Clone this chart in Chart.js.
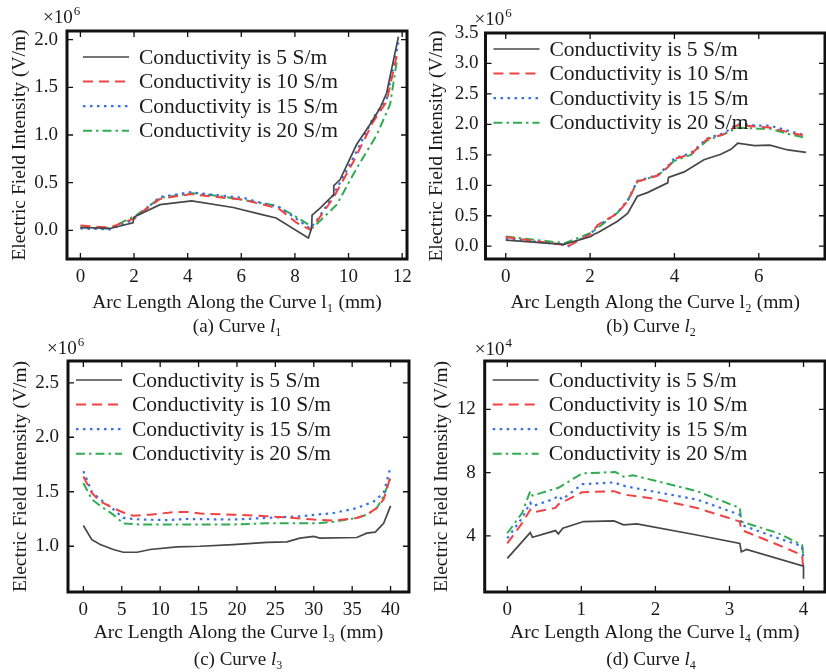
<!DOCTYPE html>
<html>
<head>
<meta charset="utf-8">
<script src="https://cdn.jsdelivr.net/npm/chart.js@4.4.1/dist/chart.umd.min.js"></script>
<style>
  body { margin: 0; background: #fff; }
  #wrap { position: relative; width: 826px; height: 672px; overflow: hidden; background: #fff; }
  canvas { position: absolute; }
  .cap { position: absolute; width: 200px; text-align: center; font: 19px "Liberation Serif", "Times New Roman", serif; line-height: 24px; color: #1a1a1a; }
  .sb { font-size: 12px; position: relative; top: 4px; }
</style>
</head>
<body>
<div id="wrap">
  <canvas id="pa" width="413" height="336" style="left:0;top:0"></canvas>
  <canvas id="pb" width="413" height="336" style="left:413px;top:0"></canvas>
  <canvas id="pc" width="413" height="336" style="left:0;top:336px"></canvas>
  <canvas id="pd" width="413" height="336" style="left:413px;top:336px"></canvas>
  <div class="cap" style="left:137px;top:314px">(a) Curve <i>l</i><span class="sb">1</span></div>
  <div class="cap" style="left:551px;top:314px">(b) Curve <i>l</i><span class="sb">2</span></div>
  <div class="cap" style="left:138px;top:647px">(c) Curve <i>l</i><span class="sb">3</span></div>
  <div class="cap" style="left:551px;top:647px">(d) Curve <i>l</i><span class="sb">4</span></div>
</div>
<script>
// legend text, shared by all four panels
const seriesLabels = ['Conductivity is 5 S/m', 'Conductivity is 10 S/m', 'Conductivity is 15 S/m', 'Conductivity is 20 S/m'];

// (a) curve l1, values x10^6 V/m, [arc length mm, field]
const a5 = [[0,0.03],[1.1,0.02],[1.96,0.08],[2.0,0.14],[2.97,0.27],[4.15,0.31],[5.7,0.24],[6.7,0.17],[7.3,0.13],[8.5,-0.08],[8.62,0.02],[8.64,0.16],[8.93,0.23],[9.43,0.37],[9.45,0.47],[9.68,0.53],[10.3,0.9],[10.8,1.11],[11.17,1.28],[11.42,1.44],[11.86,2.03]];
const a10 = [[0,0.05],[1.1,0.03],[1.96,0.12],[2.97,0.33],[4.1,0.38],[5.1,0.35],[6.1,0.32],[7.1,0.25],[7.44,0.22],[8.06,0.08],[8.56,0.01],[8.81,0.09],[9.43,0.34],[10.18,0.72],[10.92,1.14],[11.42,1.35],[11.82,1.86]];
const a15 = [[0,0.02],[1.1,0.01],[1.96,0.11],[2.97,0.35],[4.1,0.40],[5.1,0.37],[6.1,0.34],[6.7,0.29],[7.44,0.24],[8.06,0.12],[8.56,0.02],[8.81,0.1],[9.43,0.37],[10.18,0.76],[10.92,1.18],[11.42,1.38],[11.86,1.97]];
const a20 = [[0,0.03],[1.1,0.02],[2.09,0.16],[2.97,0.34],[4.2,0.39],[5.2,0.36],[6.7,0.29],[7.3,0.26],[8.06,0.14],[8.68,0.03],[9.56,0.27],[10.3,0.65],[11.05,1.0],[11.55,1.32],[11.82,1.81]];
const aXTicks = [0, 2, 4, 6, 8, 10, 12];
const aYTicks = [0, 0.5, 1.0, 1.5, 2.0];

// (b) curve l2, x10^6 V/m
const b5 = [[0,0.1],[1.38,0.03],[2.02,0.16],[2.1,0.2],[2.18,0.22],[2.65,0.41],[2.89,0.54],[3.12,0.82],[3.36,0.88],[3.84,1.04],[3.86,1.13],[4.23,1.22],[4.47,1.32],[4.7,1.42],[5.1,1.51],[5.34,1.59],[5.5,1.69],[5.9,1.65],[6.26,1.66],[6.69,1.58],[7.12,1.54]];
const b10 = [[0,0.15],[1.4,0.02],[1.45,-0.01],[2.02,0.2],[2.18,0.35],[2.65,0.54],[2.9,0.75],[3.12,1.06],[3.6,1.16],[3.85,1.3],[3.99,1.43],[4.39,1.51],[4.78,1.76],[5.18,1.84],[5.5,1.99],[5.98,1.96],[6.26,1.95],[6.77,1.86],[7.12,1.81]];
const b15 = [[0,0.13],[1.4,0.02],[1.45,-0.01],[2.02,0.21],[2.18,0.33],[2.65,0.55],[2.9,0.76],[3.12,1.07],[3.6,1.17],[3.85,1.32],[3.99,1.44],[4.39,1.53],[4.78,1.77],[5.18,1.86],[5.5,2.01],[5.98,1.98],[6.26,1.98],[6.77,1.88],[7.12,1.82]];
const b20 = [[0,0.16],[1.4,0.05],[2.02,0.22],[2.18,0.3],[2.65,0.55],[2.9,0.76],[3.12,1.06],[3.6,1.16],[3.85,1.3],[3.99,1.40],[4.39,1.5],[4.78,1.74],[5.18,1.84],[5.5,1.95],[5.98,1.93],[6.26,1.93],[6.77,1.83],[7.12,1.78]];
const bXTicks = [0, 2, 4, 6];
const bYTicks = [0, 0.5, 1.0, 1.5, 2.0, 2.5, 3.0, 3.5];

// (c) curve l3, x10^6 V/m
const c5 = [[0,1.19],[1.1,1.06],[2.2,1.015],[3.9,0.97],[5.2,0.945],[7,0.945],[8.7,0.97],[12.2,0.995],[15.2,1.0],[19.5,1.015],[23.9,1.035],[26.5,1.04],[28.2,1.075],[30,1.09],[30.8,1.075],[35.6,1.08],[36.9,1.12],[38,1.13],[39.1,1.21],[40,1.37]];
const c10 = [[0,1.64],[1.1,1.49],[2.2,1.41],[3.9,1.35],[5.2,1.31],[6.5,1.28],[8.7,1.29],[12.2,1.315],[13.6,1.315],[15.2,1.30],[19.5,1.29],[23.9,1.275],[27.4,1.26],[30,1.245],[32.6,1.235],[35.6,1.26],[36.9,1.29],[38.2,1.35],[39.1,1.43],[40,1.64]];
const c15 = [[0,1.69],[1.1,1.5],[2.2,1.43],[3.9,1.34],[5.2,1.26],[7.4,1.245],[10.9,1.24],[13.6,1.25],[19.5,1.245],[23.9,1.26],[28.2,1.275],[30.4,1.29],[32.6,1.305],[35.6,1.35],[37.8,1.41],[39.1,1.49],[40,1.73]];
const c20 = [[0,1.58],[1.1,1.43],[2.2,1.37],[3.9,1.29],[5.2,1.21],[7.4,1.2],[10.9,1.2],[15,1.2],[19.5,1.2],[23.9,1.21],[28.2,1.21],[30.4,1.21],[32.6,1.225],[35.6,1.26],[36.9,1.29],[38.2,1.35],[39.1,1.46],[40,1.63]];
const cXTicks = [0, 5, 10, 15, 20, 25, 30, 35, 40];
const cYTicks = [1.0, 1.5, 2.0, 2.5];

// (d) curve l4, x10^4 V/m
const d5 = [[0,2.58],[0.31,4.21],[0.34,3.92],[0.65,4.34],[0.69,4.13],[0.75,4.49],[1.03,4.91],[1.44,4.95],[1.57,4.70],[1.75,4.76],[2.56,4.06],[3.14,3.53],[3.16,3.0],[3.23,3.15],[4.0,2.09],[4.0,1.3]];
const d10 = [[0,3.53],[0.2,4.81],[0.31,5.66],[0.34,5.49],[0.65,5.77],[0.69,6.0],[1.01,6.76],[1.44,6.83],[1.57,6.62],[2.0,6.34],[2.56,5.77],[3.14,4.91],[3.16,4.38],[3.66,3.43],[3.98,2.79],[4.0,1.83]];
const d15 = [[0,3.85],[0.2,5.13],[0.31,6.09],[0.34,5.88],[0.63,6.34],[0.69,6.55],[0.74,6.3],[1.01,7.27],[1.44,7.38],[1.6,7.13],[2.56,6.3],[3.14,5.34],[3.16,4.70],[3.66,3.85],[3.98,3.36],[4.0,2.47]];
const d20 = [[0,4.17],[0.2,5.45],[0.31,6.83],[0.34,6.55],[0.69,7.04],[1.01,7.95],[1.46,8.04],[1.57,7.74],[1.7,7.83],[2.56,6.83],[3.14,5.77],[3.16,4.91],[3.66,4.17],[3.98,3.43],[4.0,2.68]];
const dXTicks = [0, 1, 2, 3, 4];
const dYTicks = [4, 8, 12];

const FONT = '"Liberation Serif", "Times New Roman", serif';
const colors = ['#474747', '#f04444', '#3670e8', '#32ac52'];
const widths = [1.7, 2, 2.2, 2];
const dashes = [[], [10, 6], [2.5, 4.5], [9, 4, 2.5, 4]];

Chart.defaults.font.family = FONT;
Chart.defaults.color = '#1a1a1a';

// legend drawn inside the plot box, top-left
const inlineLegend = {
  id: 'inlineLegend',
  afterDatasetsDraw(chart, args, opts) {
    const {ctx, chartArea} = chart;
    ctx.save();
    ctx.font = '21.5px ' + FONT;
    ctx.textBaseline = 'middle';
    chart.data.datasets.forEach((ds, i) => {
      const y = chartArea.top + opts.top + i * 24.6;
      const x0 = chartArea.left + opts.left;
      ctx.strokeStyle = ds.borderColor;
      ctx.lineWidth = ds.borderWidth;
      ctx.setLineDash(ds.borderDash);
      ctx.beginPath();
      ctx.moveTo(x0, y);
      ctx.lineTo(x0 + 46, y);
      ctx.stroke();
      ctx.setLineDash([]);
      ctx.fillStyle = '#1a1a1a';
      ctx.fillText(ds.label, x0 + 56, y + 1);
    });
    ctx.restore();
  }
};

// thick box, inward ticks on all four sides, exponent label
const frame = {
  id: 'frame',
  afterDraw(chart, args, opts) {
    const {ctx, chartArea: a, scales: {x, y}} = chart;
    ctx.save();
    ctx.strokeStyle = '#111';
    ctx.lineWidth = 1.3;
    ctx.beginPath();
    x.ticks.forEach(t => {
      const px = x.getPixelForValue(t.value);
      ctx.moveTo(px, a.bottom); ctx.lineTo(px, a.bottom - 6);
      ctx.moveTo(px, a.top); ctx.lineTo(px, a.top + 6);
    });
    y.ticks.forEach(t => {
      const py = y.getPixelForValue(t.value);
      ctx.moveTo(a.left, py); ctx.lineTo(a.left + 6, py);
      ctx.moveTo(a.right, py); ctx.lineTo(a.right - 6, py);
    });
    ctx.stroke();
    ctx.lineWidth = 3;
    ctx.strokeRect(a.left, a.top, a.right - a.left, a.bottom - a.top);
    ctx.fillStyle = '#1a1a1a';
    ctx.font = '19px ' + FONT;
    ctx.textBaseline = 'alphabetic';
    const bx = a.left + opts.dx, by = a.top + opts.dy;
    ctx.fillText('\u00d710', bx, by);
    const w = ctx.measureText('\u00d710').width;
    ctx.font = '13px ' + FONT;
    ctx.fillText(opts.exp, bx + w + 1, by - 8);
    ctx.restore();
  }
};

function makePanel(id, series, o) {
  new Chart(document.getElementById(id), {
    type: 'line',
    data: {
      datasets: series.map((pts, i) => ({
        label: seriesLabels[i],
        data: pts.map(p => ({x: p[0], y: p[1]})),
        borderColor: colors[i],
        borderWidth: widths[i],
        borderDash: dashes[i],
        pointRadius: 0,
        tension: 0,
        fill: false
      }))
    },
    options: {
      responsive: false,
      animation: false,
      events: [],
      layout: {padding: o.pad, autoPadding: false},
      plugins: {
        legend: {display: false},
        tooltip: {enabled: false},
        inlineLegend: o.legend,
        frame: o.exp
      },
      scales: {
        x: {
          type: 'linear', min: o.xMin, max: o.xMax,
          afterBuildTicks: s => { s.ticks = o.xTicks.map(v => ({value: v})); },
          afterFit: s => { s.height = o.xH; s.paddingLeft = 0; s.paddingRight = 0; },
          grid: {display: false, drawTicks: false},
          border: {display: false},
          ticks: {font: {size: 19}, padding: 7, maxRotation: 0, callback: v => String(v)},
          title: {display: true, text: o.xTitle, font: {size: 19.5}, padding: {top: 0, bottom: o.xTitlePad}}
        },
        y: {
          type: 'linear', min: o.yMin, max: o.yMax,
          afterBuildTicks: s => { s.ticks = o.yTicks.map(v => ({value: v})); },
          afterFit: s => { s.width = o.yW; s.paddingTop = 0; s.paddingBottom = 0; },
          grid: {display: false, drawTicks: false},
          border: {display: false},
          ticks: {font: {size: 19}, padding: o.yTickPad, callback: o.yFmt},
          title: {display: true, text: 'Electric Field Intensity (V/m)', font: {size: 19.5}, padding: {top: o.yTitlePad, bottom: 0}}
        }
      }
    },
    plugins: [inlineLegend, frame]
  });
}

const oneDec = v => v.toFixed(1);

makePanel('pa', [a5, a10, a15, a20], {
  pad: {left: 0, top: 31, right: 6, bottom: 0}, xH: 77, yW: 67,
  xMin: -0.5, xMax: 12.18, yMin: -0.3, yMax: 2.09, xTicks: aXTicks, yTicks: aYTicks,
  xTitle: 'Arc Length Along the Curve l\u2081 (mm)', xTitlePad: 21, yTitlePad: 8, yTickPad: 9, yFmt: oneDec,
  legend: {left: 16, top: 26}, exp: {dx: -24, dy: -8, exp: '6'}
});
makePanel('pb', [b5, b10, b15, b20], {
  pad: {left: 0, top: 33, right: 1, bottom: 0}, xH: 77, yW: 72.5,
  xMin: -0.48, xMax: 7.57, yMin: -0.21, yMax: 3.5, xTicks: bXTicks, yTicks: bYTicks,
  xTitle: 'Arc Length Along the Curve l\u2082 (mm)', xTitlePad: 21, yTitlePad: 12, yTickPad: 7, yFmt: oneDec,
  legend: {left: 8, top: 16}, exp: {dx: -11, dy: -8, exp: '6'}
});
makePanel('pc', [c5, c10, c15, c20], {
  pad: {left: 0, top: 25, right: 4, bottom: 0}, xH: 80, yW: 68,
  xMin: -2, xMax: 42.4, yMin: 0.58, yMax: 2.7, xTicks: cXTicks, yTicks: cYTicks,
  xTitle: 'Arc Length Along the Curve l\u2083 (mm)', xTitlePad: 27, yTitlePad: 9, yTickPad: 9, yFmt: oneDec,
  legend: {left: 8, top: 19}, exp: {dx: -21, dy: -7, exp: '6'}
});
makePanel('pd', [d5, d10, d15, d20], {
  pad: {left: 0, top: 25, right: 1, bottom: 0}, xH: 80, yW: 71.7,
  xMin: -0.305, xMax: 4.29, yMin: 0.46, yMax: 15.05, xTicks: dXTicks, yTicks: dYTicks,
  xTitle: 'Arc Length Along the Curve l\u2084 (mm)', xTitlePad: 27, yTitlePad: 17, yTickPad: 9, yFmt: v => String(v),
  legend: {left: 8, top: 19}, exp: {dx: -10, dy: -6, exp: '4'}
});
</script>
</body>
</html>
